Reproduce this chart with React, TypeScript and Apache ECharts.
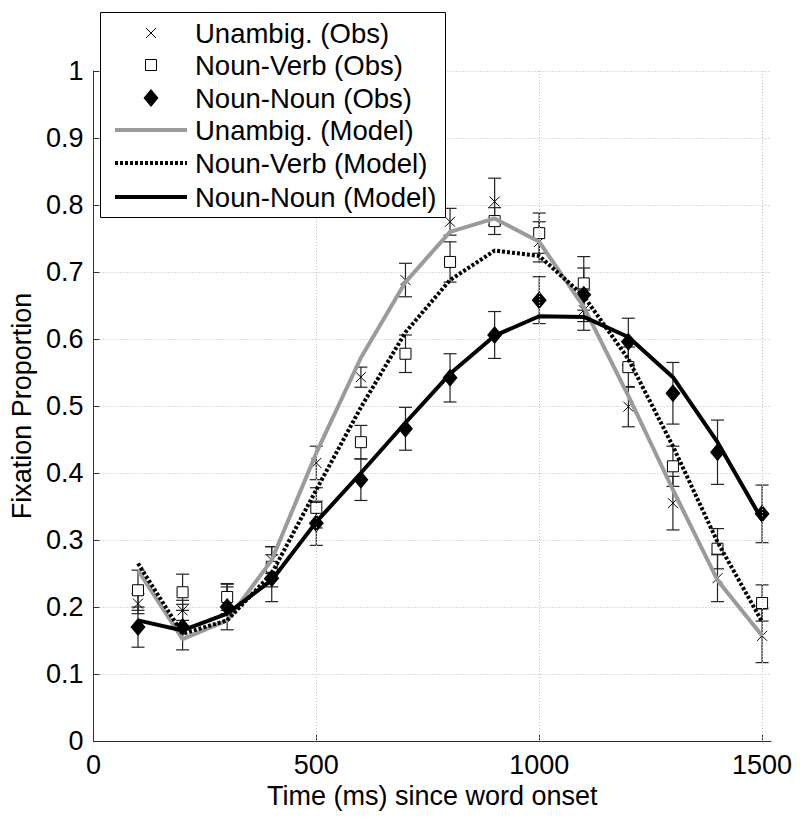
import React, { useEffect, useRef } from "react";
import * as echarts from "echarts";

const times = [100, 200, 300, 400, 500, 600, 700, 800, 900, 1000, 1100, 1200, 1300, 1400, 1500];

const unambigObs = [0.205, 0.195, 0.21, 0.27, 0.415, 0.543, 0.688, 0.775, 0.805, 0.745, 0.643, 0.499, 0.355, 0.243, 0.157];
const unambigErr = [0.015, 0.015, 0.02, 0.02, 0.025, 0.015, 0.025, 0.02, 0.035, 0.03, 0.03, 0.03, 0.04, 0.035, 0.04];

const nounVerbObs = [0.225, 0.222, 0.215, 0.26, 0.348, 0.446, 0.578, 0.715, 0.776, 0.758, 0.683, 0.558, 0.41, 0.287, 0.206];
const nounVerbErr = [0.03, 0.027, 0.02, 0.03, 0.03, 0.025, 0.028, 0.03, 0.02, 0.03, 0.04, 0.03, 0.03, 0.03, 0.027];

const nounNounObs = [0.17, 0.17, 0.2, 0.243, 0.325, 0.39, 0.466, 0.542, 0.606, 0.658, 0.666, 0.596, 0.519, 0.431, 0.339];
const nounNounErr = [0.03, 0.034, 0.034, 0.035, 0.033, 0.031, 0.032, 0.036, 0.035, 0.035, 0.04, 0.035, 0.046, 0.048, 0.043];

const unambigModel = [0.255, 0.152, 0.18, 0.27, 0.43, 0.572, 0.685, 0.76, 0.78, 0.745, 0.648, 0.515, 0.375, 0.24, 0.157];
const nounVerbModel = [0.265, 0.16, 0.18, 0.25, 0.375, 0.498, 0.61, 0.688, 0.732, 0.724, 0.664, 0.57, 0.44, 0.297, 0.178];
const nounNounModel = [0.18, 0.165, 0.19, 0.24, 0.327, 0.4, 0.475, 0.548, 0.605, 0.634, 0.633, 0.603, 0.543, 0.446, 0.33];

const xTicks = [0, 500, 1000, 1500];
const legendLabels = [
  "Unambig. (Obs)",
  "Noun-Verb (Obs)",
  "Noun-Noun (Obs)",
  "Unambig. (Model)",
  "Noun-Verb (Model)",
  "Noun-Noun (Model)",
];

const FONT = "'Liberation Sans', Arial, Helvetica, sans-serif";
const GREY = "#9b9b9b";

function errData(vals: number[], errs: number[]) {
  return times.map((t, i) => [t, vals[i], errs[i]]);
}

function pts(vals: number[]) {
  return times.map((t, i) => [t, vals[i]]);
}

function errorBarSeries(vals: number[], errs: number[]) {
  return {
    type: "custom",
    z: 2,
    silent: true,
    data: errData(vals, errs),
    renderItem: (params: any, api: any) => {
      const x = api.value(0);
      const y = api.value(1);
      const e = api.value(2);
      const top = api.coord([x, y + e]);
      const bot = api.coord([x, y - e]);
      const hw = 6.5;
      const st = { stroke: "#222", lineWidth: 1.2 };
      return {
        type: "group",
        children: [
          { type: "line", shape: { x1: top[0], y1: top[1], x2: bot[0], y2: bot[1] }, style: st },
          { type: "line", shape: { x1: top[0] - hw, y1: top[1], x2: top[0] + hw, y2: top[1] }, style: st },
          { type: "line", shape: { x1: bot[0] - hw, y1: bot[1], x2: bot[0] + hw, y2: bot[1] }, style: st },
        ],
      };
    },
  };
}

export default function App() {
  const ref = useRef<HTMLDivElement>(null);

  useEffect(() => {
    if (!ref.current) return;
    const chart = echarts.init(ref.current, null, { renderer: "svg" });

    const rowY = [33, 65, 98, 130, 163, 197];
    const legendGraphics: any[] = [
      {
        type: "rect",
        z: 100,
        shape: { x: 100.5, y: 12.5, width: 345, height: 205 },
        style: { fill: "#fff", stroke: "#000", lineWidth: 1 },
      },
      { type: "line", z: 101, shape: { x1: 146, y1: rowY[0] - 5, x2: 156, y2: rowY[0] + 5 }, style: { stroke: "#000", lineWidth: 1 } },
      { type: "line", z: 101, shape: { x1: 156, y1: rowY[0] - 5, x2: 146, y2: rowY[0] + 5 }, style: { stroke: "#000", lineWidth: 1 } },
      { type: "rect", z: 101, shape: { x: 145.5, y: rowY[1] - 5.5, width: 11, height: 11 }, style: { fill: "#fff", stroke: "#000", lineWidth: 1 } },
      {
        type: "polygon",
        z: 101,
        shape: { points: [[151, rowY[2] - 9], [158.5, rowY[2]], [151, rowY[2] + 9], [143.5, rowY[2]]] },
        style: { fill: "#000" },
      },
      { type: "line", z: 101, shape: { x1: 115, y1: rowY[3], x2: 187, y2: rowY[3] }, style: { stroke: GREY, lineWidth: 4 } },
      { type: "line", z: 101, shape: { x1: 115, y1: rowY[4], x2: 187, y2: rowY[4] }, style: { stroke: "#000", lineWidth: 4, lineDash: [3, 2] } },
      { type: "line", z: 101, shape: { x1: 115, y1: rowY[5], x2: 187, y2: rowY[5] }, style: { stroke: "#000", lineWidth: 4 } },
    ];
    legendLabels.forEach((label, i) => {
      legendGraphics.push({
        type: "text",
        z: 101,
        x: 195,
        y: rowY[i],
        style: {
          text: label,
          fontSize: 27.5,
          fontFamily: FONT,
          fill: "#000",
          verticalAlign: "middle",
          align: "left",
        },
      });
    });

    const gridLine = { color: "#bdbdbd", width: 1, type: [1, 2] };

    chart.setOption({
      animation: false,
      backgroundColor: "#fff",
      textStyle: { fontFamily: FONT },
      grid: { left: 93, top: 71, width: 678, height: 670, containLabel: false },
      xAxis: {
        type: "value",
        min: 0,
        max: 1520,
        interval: 500,
        name: "Time (ms) since word onset",
        nameLocation: "middle",
        nameGap: 40,
        nameTextStyle: { fontSize: 27, color: "#000", fontFamily: FONT },
        axisLine: { show: true, onZero: false, lineStyle: { color: "#333", width: 1 } },
        axisTick: { show: true, inside: true, length: 6, lineStyle: { color: "#333" }, customValues: xTicks },
        axisLabel: {
          fontSize: 27,
          color: "#000",
          margin: 10,
          fontFamily: FONT,
          customValues: xTicks,
          formatter: (v: number) => (v % 500 === 0 ? String(v) : ""),
        },
        splitLine: { show: false },
      },
      yAxis: {
        type: "value",
        min: 0,
        max: 1,
        interval: 0.1,
        name: "Fixation Proportion",
        nameLocation: "middle",
        nameGap: 52,
        nameTextStyle: { fontSize: 27, color: "#000", fontFamily: FONT },
        axisLine: { show: true, lineStyle: { color: "#333", width: 1 } },
        axisTick: { show: true, inside: true, length: 6, lineStyle: { color: "#333" } },
        axisLabel: {
          fontSize: 27,
          color: "#000",
          margin: 10,
          fontFamily: FONT,
          formatter: (v: number) => (Math.abs(v) < 1e-9 ? "0" : Math.abs(v - 1) < 1e-9 ? "1" : v.toFixed(1)),
        },
        splitLine: { show: true, lineStyle: gridLine },
      },
      series: [
        {
          type: "line",
          z: 1,
          data: [],
          silent: true,
          markLine: {
            silent: true,
            symbol: ["none", "none"],
            label: { show: false },
            lineStyle: gridLine,
            data: [{ xAxis: 500 }, { xAxis: 1000 }, { xAxis: 1500 }],
          },
        },
        errorBarSeries(unambigObs, unambigErr),
        errorBarSeries(nounVerbObs, nounVerbErr),
        errorBarSeries(nounNounObs, nounNounErr),
        {
          name: legendLabels[0],
          type: "scatter",
          z: 3,
          data: pts(unambigObs),
          symbol: "path://M0,0L10,10M10,0L0,10",
          symbolSize: 10,
          itemStyle: { color: "none", borderColor: "#000", borderWidth: 1, opacity: 1 },
        },
        {
          name: legendLabels[1],
          type: "scatter",
          z: 3,
          data: pts(nounVerbObs),
          symbol: "rect",
          symbolSize: 11,
          itemStyle: { color: "#fff", borderColor: "#000", borderWidth: 1, opacity: 1 },
        },
        {
          name: legendLabels[2],
          type: "scatter",
          z: 3,
          data: pts(nounNounObs),
          symbol: "diamond",
          symbolSize: [15, 18],
          itemStyle: { color: "#000", opacity: 1 },
        },
        {
          name: legendLabels[3],
          type: "line",
          z: 4,
          data: pts(unambigModel),
          showSymbol: false,
          symbol: "none",
          lineStyle: { color: GREY, width: 4 },
        },
        {
          name: legendLabels[4],
          type: "line",
          z: 5,
          data: pts(nounVerbModel),
          showSymbol: false,
          symbol: "none",
          lineStyle: { color: "#000", width: 4, type: [3, 2] },
        },
        {
          name: legendLabels[5],
          type: "line",
          z: 6,
          data: pts(nounNounModel),
          showSymbol: false,
          symbol: "none",
          lineStyle: { color: "#000", width: 4 },
        },
      ],
      graphic: { elements: legendGraphics },
    });

    return () => chart.dispose();
  }, []);

  return (
    <div
      ref={ref}
      style={{ position: "fixed", left: 0, top: 0, width: 800, height: 821, background: "#fff" }}
    />
  );
}
